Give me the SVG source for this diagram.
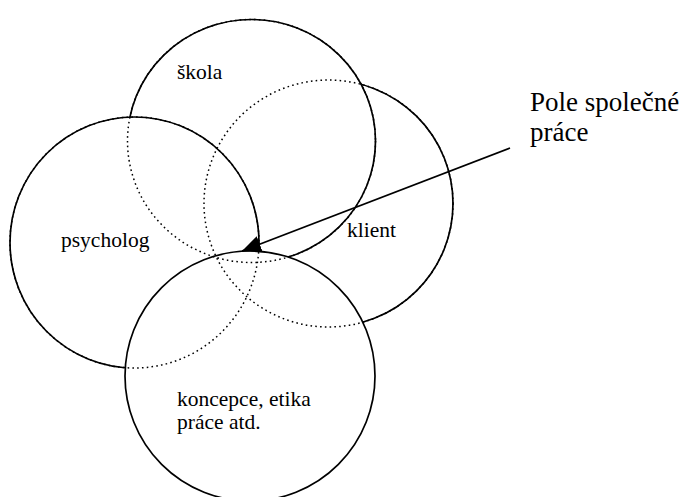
<svg xmlns="http://www.w3.org/2000/svg" width="679" height="497" viewBox="0 0 679 497">
  <style>
    .disc { fill: #ffffff; stroke: #000000; stroke-width: 1.7; }
    .hidden { fill: none; stroke: #000000; stroke-width: 1.5; stroke-dasharray: 1.6 3.2; }
    .lbl { font-family: "Liberation Serif", "Times New Roman", serif; font-size: 21.5px; fill: #000000; }
    .big { font-family: "Liberation Serif", "Times New Roman", serif; font-size: 27px; fill: #000000; }
    .conn { stroke: #000000; stroke-width: 1.7; fill: none; }
  </style>
  <defs>
    <marker id="arrow" markerUnits="userSpaceOnUse" markerWidth="20" markerHeight="17" refX="19" refY="8.5" orient="auto">
      <path d="M0,0 L19,8.5 L0,17 z" fill="#000000"/>
    </marker>
    <ellipse id="c-klient" cx="328.5" cy="203.5" rx="124.5" ry="123.5"/>
    <ellipse id="c-skola" cx="251.5" cy="141" rx="124" ry="121.5"/>
    <ellipse id="c-psycholog" cx="134.5" cy="242.5" rx="124.5" ry="125.5"/>
    <ellipse id="c-koncepce" cx="250" cy="376" rx="125" ry="125"/>
  </defs>
  <rect width="679" height="497" fill="#ffffff"/>

  <g id="klient">
    <use href="#c-klient" class="disc"/>
    <text class="lbl" x="347" y="237">klient</text>
  </g>
  <g id="skola">
    <use href="#c-skola" class="disc"/>
    <text class="lbl" x="177" y="79">škola</text>
  </g>
  <g id="psycholog">
    <use href="#c-psycholog" class="disc"/>
    <text class="lbl" x="61" y="247">psycholog</text>
  </g>
  <g id="koncepce">
    <use href="#c-koncepce" class="disc"/>
    <text class="lbl" x="177" y="406">koncepce, etika</text>
    <text class="lbl" x="177" y="429">práce atd.</text>
  </g>

  <g id="hidden-outlines">
    <use href="#c-klient" class="hidden"/>
    <use href="#c-skola" class="hidden"/>
    <use href="#c-psycholog" class="hidden"/>
  </g>

  <g id="connectors">
    <line class="conn" x1="510" y1="148" x2="242" y2="251" marker-end="url(#arrow)"/>
  </g>

  <g id="pole">
    <text class="big" x="530" y="111">Pole společné</text>
    <text class="big" x="530" y="141">práce</text>
  </g>
</svg>
